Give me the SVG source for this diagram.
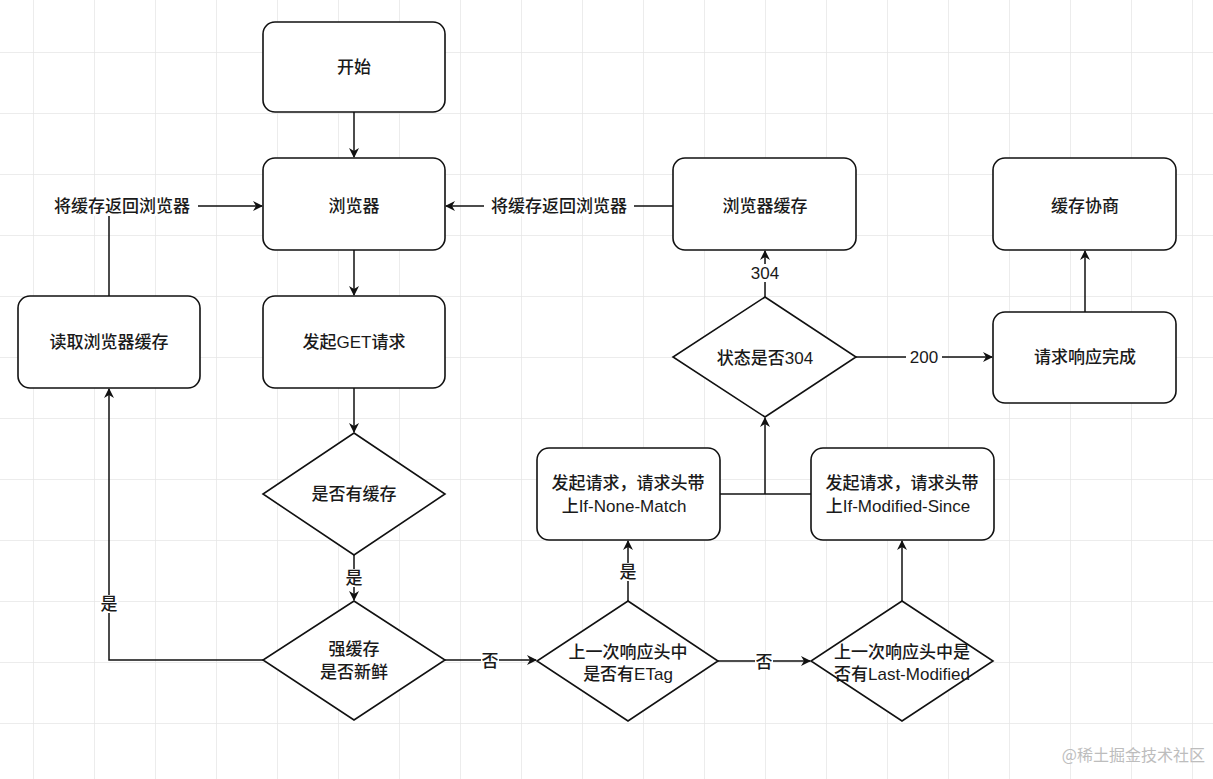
<svg xmlns="http://www.w3.org/2000/svg" width="1213" height="779" viewBox="0 0 1213 779">
<defs>
<pattern id="grid" x="33" y="52" width="61" height="61" patternUnits="userSpaceOnUse">
<path d="M0,0 H61 M0,0 V61" fill="none" stroke="#e6e6e6" stroke-width="1.5"/>
</pattern>
<marker id="arr" viewBox="0 0 10 10" refX="9" refY="5" markerWidth="10" markerHeight="10" markerUnits="userSpaceOnUse" orient="auto">
<path d="M0,0 L10,5 L0,10 L3,5 z" fill="#111"/>
</marker>
</defs>
<style>
.n{fill:#fff;stroke:#111;stroke-width:1.6}
.t{font-family:"Liberation Sans","Noto Sans CJK SC",sans-serif;font-size:17px;font-weight:500;fill:#1a1a1a;text-anchor:middle;dominant-baseline:central}
.e{fill:none;stroke:#111;stroke-width:1.5}
.a{marker-end:url(#arr)}
.lb{fill:#fff}
</style>
<rect width="1213" height="779" fill="#fff"/>
<rect width="1213" height="779" fill="url(#grid)"/>

<g id="connectors">
<path class="e a" d="M354,112 V157"/>
<path class="e a" d="M354,250 V295"/>
<path class="e a" d="M354,388 V432"/>
<path class="e a" d="M354,555 V600"/>
<path class="e a" d="M263,660 H109 V389"/>
<path class="e a" d="M109,296 V206 H262"/>
<path class="e a" d="M445,660 H536"/>
<path class="e a" d="M718,661 H810"/>
<path class="e a" d="M628,601 V541"/>
<path class="e a" d="M902,601 V541"/>
<path class="e" d="M720,494 H811"/>
<path class="e a" d="M765,494 V418"/>
<path class="e a" d="M765,297 V251"/>
<path class="e a" d="M856,357 H992"/>
<path class="e a" d="M1085,312 V251"/>
<path class="e a" d="M673,206 H446"/>
<rect class="lb" x="345" y="569" width="18" height="18"/>
<text class="t" x="354" y="578">是</text>
<rect class="lb" x="100" y="595" width="18" height="18"/>
<text class="t" x="109" y="604">是</text>
<rect class="lb" x="48" y="196" width="150" height="20"/>
<text class="t" x="122" y="206">将缓存返回浏览器</text>
<rect class="lb" x="481" y="651" width="18" height="18"/>
<text class="t" x="490" y="661">否</text>
<rect class="lb" x="755" y="652" width="18" height="18"/>
<text class="t" x="764" y="662">否</text>
<rect class="lb" x="619" y="563" width="18" height="18"/>
<text class="t" x="628" y="572">是</text>
<rect class="lb" x="747" y="264" width="36" height="18"/>
<text class="t" x="765" y="273">304</text>
<rect class="lb" x="906" y="348" width="36" height="18"/>
<text class="t" x="924" y="357">200</text>
<rect class="lb" x="484" y="196" width="150" height="20"/>
<text class="t" x="559" y="206">将缓存返回浏览器</text>
</g>

<g id="start"><rect class="n" x="263" y="22" width="182" height="90" rx="12"/><text class="t" x="354" y="67">开始</text></g>
<g id="browser"><rect class="n" x="263" y="158" width="182" height="92" rx="12"/><text class="t" x="354" y="206">浏览器</text></g>
<g id="get"><rect class="n" x="263" y="296" width="182" height="92" rx="12"/><text class="t" x="354" y="342">发起GET请求</text></g>
<g id="readcache"><rect class="n" x="18" y="296" width="182" height="92" rx="12"/><text class="t" x="109" y="342">读取浏览器缓存</text></g>
<g id="browsercache"><rect class="n" x="673" y="158" width="183" height="92" rx="12"/><text class="t" x="765" y="206">浏览器缓存</text></g>
<g id="negotiate"><rect class="n" x="993" y="158" width="183" height="92" rx="12"/><text class="t" x="1085" y="206">缓存协商</text></g>
<g id="done"><rect class="n" x="993" y="312" width="183" height="91" rx="12"/><text class="t" x="1085" y="357">请求响应完成</text></g>
<g id="inm"><rect class="n" x="537" y="448" width="183" height="92" rx="12"/><text class="t" x="628" y="483">发起请求，请求头带</text><text class="t" x="624" y="506">上If-None-Match</text></g>
<g id="ims"><rect class="n" x="811" y="448" width="183" height="92" rx="12"/><text class="t" x="902" y="483">发起请求，请求头带</text><text class="t" x="898" y="506">上If-Modified-Since</text></g>
<g id="hascache"><path class="n" d="M354,433 L445,494 L354,555 L263,494 Z"/><text class="t" x="354" y="494">是否有缓存</text></g>
<g id="fresh"><path class="n" d="M354,601 L445,660 L354,720 L263,660 Z"/><text class="t" x="354" y="649">强缓存</text><text class="t" x="354" y="672">是否新鲜</text></g>
<g id="etag"><path class="n" d="M628,601 L718,661 L628,721 L537,661 Z"/><text class="t" x="628" y="652">上一次响应头中</text><text class="t" x="628" y="674">是否有ETag</text></g>
<g id="lastmod"><path class="n" d="M902,601 L993,661 L902,721 L811,661 Z"/><text class="t" x="902" y="652">上一次响应头中是</text><text class="t" x="902" y="674">否有Last-Modified</text></g>
<g id="is304"><path class="n" d="M765,297 L856,357 L765,417 L673,357 Z"/><text class="t" x="765" y="358">状态是否304</text></g>

<text x="1205" y="761" font-family="'Noto Sans CJK SC',sans-serif" font-size="16" fill="#bdbdbd" text-anchor="end">@稀土掘金技术社区</text>
</svg>
